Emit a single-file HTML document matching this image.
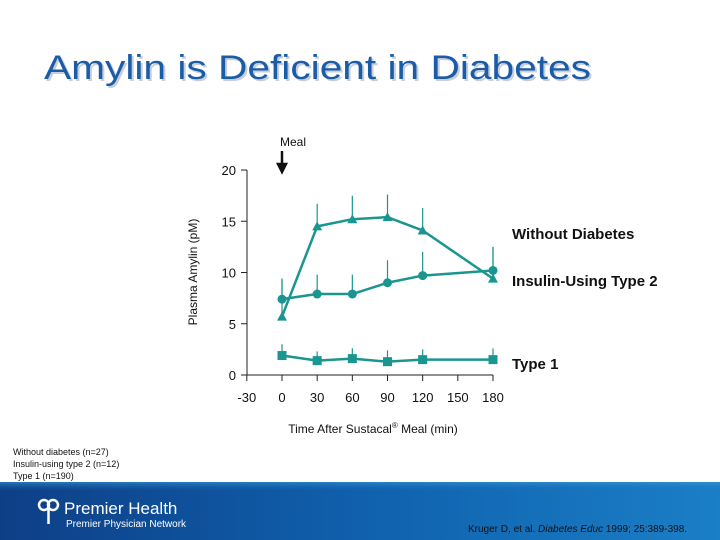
<!DOCTYPE html>
<html><head><meta charset="utf-8"><style>
html,body{margin:0;padding:0;background:#fff;}
svg{display:block;font-family:"Liberation Sans","DejaVu Sans",sans-serif;}
</style></head><body>
<svg id="s" width="720" height="540" viewBox="0 0 720 540">
<defs>
<linearGradient id="bg" x1="0" y1="0" x2="1" y2="0">
<stop offset="0" stop-color="#0d3f86"/><stop offset="0.5" stop-color="#1060ad"/><stop offset="1" stop-color="#1a7fc6"/>
</linearGradient>
<linearGradient id="bgv" x1="0" y1="0" x2="0" y2="1">
<stop offset="0" stop-color="#3a9ad8" stop-opacity="0.6"/><stop offset="0.15" stop-color="#1a6cb5" stop-opacity="0"/>
</linearGradient>
</defs>
<g>
<text x="46" y="81" font-size="34" fill="#c9cfd6" textLength="547" lengthAdjust="spacingAndGlyphs">Amylin is Deficient in Diabetes</text>
<text x="44" y="79" font-size="34" fill="#1a5ca8" textLength="547" lengthAdjust="spacingAndGlyphs">Amylin is Deficient in Diabetes</text>
</g>
<g id="chart"></g>
<g font-size="9" fill="#111">
<text x="13" y="455">Without diabetes (n=27)</text>
<text x="13" y="467">Insulin-using type 2 (n=12)</text>
<text x="13" y="479">Type 1 (n=190)</text>
</g>
<g>
<rect x="0" y="482" width="720" height="58" fill="url(#bg)"/>
<rect x="0" y="482" width="720" height="58" fill="url(#bgv)"/>
<g fill="none" stroke="#fff" stroke-width="2.5">
<circle cx="44" cy="505" r="5"/><circle cx="53" cy="505" r="5"/><path d="M48.5 505 V524"/>
</g>
<text x="64" y="514" font-size="17" fill="#fff">Premier Health</text>
<text x="66" y="527" font-size="10" fill="#fff">Premier Physician Network</text>
<text x="468" y="532" font-size="10" fill="#111">Kruger D, et al.  <tspan font-style="italic">Diabetes Educ</tspan> 1999; 25:389-398.</text>
</g>
</svg>
<script>
const xCats=[0,30,60,90,120,180];
const withoutVals=[5.7,14.5,15.2,15.4,14.1,9.4];
const withoutErr=[9.4,16.7,17.5,17.6,16.3,12.5];
const insulinVals=[7.4,7.9,7.9,9.0,9.7,10.2];
const insulinErr=[9.4,9.8,9.8,11.2,12.0,12.5];
const type1Vals=[1.9,1.4,1.6,1.3,1.5,1.5];
const type1Err=[3.0,2.3,2.6,2.4,2.5,2.6];
const xTicks=[-30,0,30,60,90,120,150,180];
const yTicks=[0,5,10,15,20];
const NS='http://www.w3.org/2000/svg';
const g=document.getElementById('chart');
const C='#1a9590';
function X(v){return 282+(v)*(211/180);}
function Y(v){return 375-v*(205/20);}
function el(t,a,p){const e=document.createElementNS(NS,t);for(const k in a)e.setAttribute(k,a[k]);(p||g).appendChild(e);return e;}
const ax=el('line',{x1:247,y1:Y(20),x2:247,y2:375,stroke:'#222','stroke-width':1});


const axx=el('line',{x1:247,y1:375,x2:493,y2:375,stroke:'#222','stroke-width':1});


yTicks.forEach(v=>{
  el('line',{x1:241,y1:Y(v),x2:247,y2:Y(v),stroke:'#222'});
  const t=el('text',{x:236,y:Y(v)+5,'font-size':13,'text-anchor':'end',fill:'#111'});t.textContent=v;
  
  
});
xTicks.forEach(v=>{
  el('line',{x1:X(v),y1:375,x2:X(v),y2:381,stroke:'#222'});
  const t=el('text',{x:X(v),y:402,'font-size':13,'text-anchor':'middle',fill:'#111'});t.textContent=v;
  
  
});
const yt=el('text',{x:0,y:0,'font-size':12,'text-anchor':'middle',fill:'#111',transform:'translate(197,272) rotate(-90)'});yt.textContent='Plasma Amylin (pM)';


const xt=el('text',{x:373,y:433,'font-size':12,'text-anchor':'middle',fill:'#111'});xt.innerHTML='Time After Sustacal<tspan font-size="8" dy="-5">®</tspan><tspan dy="5"> Meal (min)</tspan>';


const ml=el('text',{x:293,y:146,'font-size':12,'text-anchor':'middle',fill:'#111'});ml.textContent='Meal';


const ma=el('path',{d:'M282 151 V168 M278 164 L282 172 L286 164 Z',stroke:'#111','stroke-width':2.5,fill:'#111'});


function series(vals,errs,shape,name,label,ly){
  const sg=el('g',{});
  
  
  vals.forEach((v,i)=>{const b=el('line',{x1:X(xCats[i]),y1:Y(v),x2:X(xCats[i]),y2:Y(errs[i]),stroke:C,'stroke-width':1.2},sg);
    
    });
  const pl=el('polyline',{points:vals.map((v,i)=>X(xCats[i])+','+Y(v)).join(' '),fill:'none',stroke:C,'stroke-width':2.5},sg);
  
  
  vals.forEach((v,i)=>{const x=X(xCats[i]),y=Y(v);let m;
    if(shape==='tri')m=el('path',{d:`M${x} ${y-5} L${x+5} ${y+4} L${x-5} ${y+4} Z`,fill:C},sg);
    else if(shape==='circ')m=el('circle',{cx:x,cy:y,r:4.5,fill:C},sg);
    else m=el('rect',{x:x-4.5,y:y-4.5,width:9,height:9,fill:C},sg);
    
    });
  const t=el('text',{x:512,y:ly,'font-size':15,'font-weight':'bold',fill:'#111'});t.textContent=label;
  
  
}
series(withoutVals,withoutErr,'tri','without-diabetes','Without Diabetes',239);
series(insulinVals,insulinErr,'circ','insulin-type2','Insulin-Using Type 2',286);
series(type1Vals,type1Err,'sq','type1','Type 1',369);
</script>
</body></html>
